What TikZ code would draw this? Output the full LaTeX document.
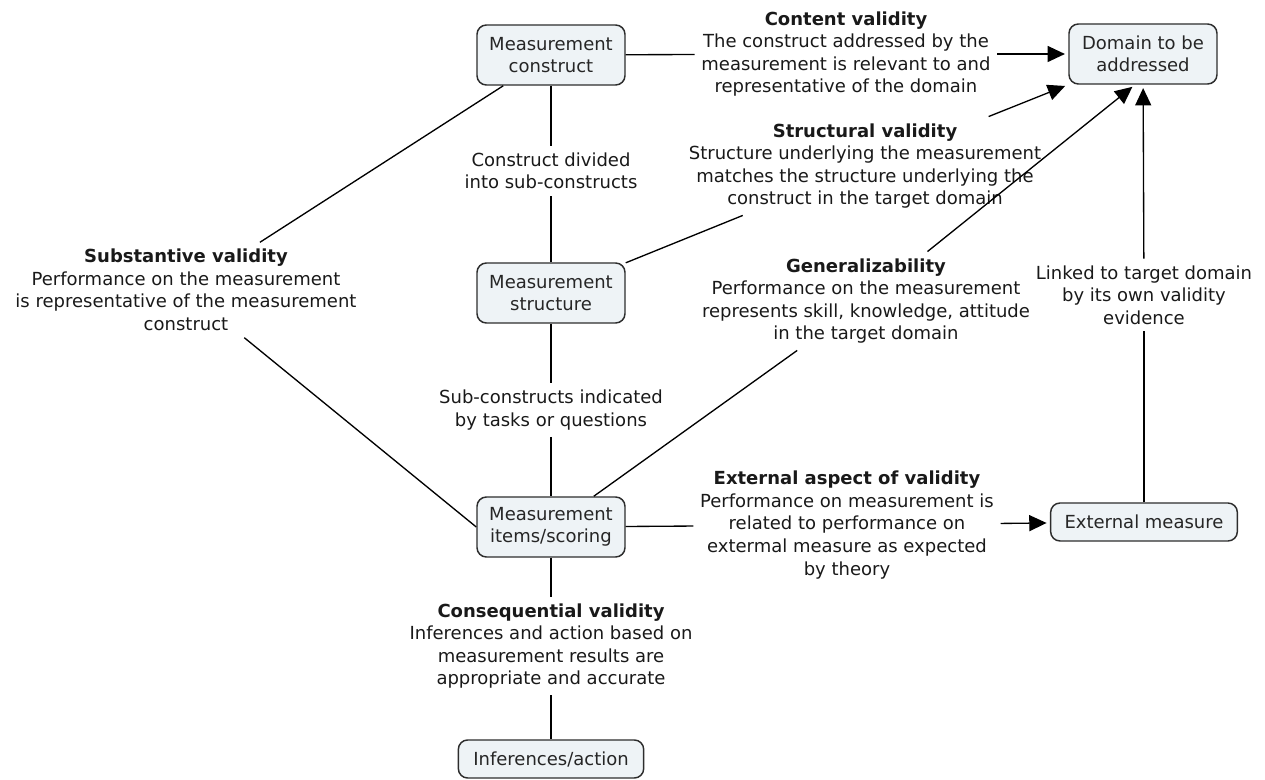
\documentclass[tikz,border=0pt]{standalone}
\usepackage{fontspec}
\setmainfont{DejaVu Sans}
\usetikzlibrary{arrows.meta}
\definecolor{boxfill}{RGB}{238,243,246}
\definecolor{boxline}{RGB}{45,45,45}
\begin{document}
\begin{tikzpicture}[
    x=0.75pt, y=-0.75pt,
    >={Triangle[length=13pt,width=12pt]},
    concept/.style={draw=boxline, fill=boxfill, rectangle, rounded corners=7pt, line width=1.1pt, align=center, minimum width=111pt, minimum height=45pt, font=\fontsize{13.5}{16.9}\selectfont, text=black!85},
    link/.style={align=center, inner sep=5pt, font=\fontsize{13.5}{16.9}\selectfont, text=black!90},
    line/.style={draw=black, line width=1pt},
    arrow/.style={->, line, shorten >=2.5pt}
]
  \useasboundingbox (0,0) rectangle (1265,780);

  \node[concept] (construct) at (551,55) {Measurement\\construct};
  \node[concept] (domain) at (1143,54) {Domain to be\\addressed};
  \node[concept] (structure) at (551,293) {Measurement\\structure};
  \node[concept] (items) at (551,527) {Measurement\\items/scoring};
  \node[concept, minimum width=140pt, minimum height=28.5pt] (extmeasure) at (1144,522) {External measure};
  \node[concept, minimum width=139pt, minimum height=28.5pt] (inference) at (551,759) {Inferences/action};

  % Links between the concepts
  \node[link] (content) at (846,54) {\textbf{Content validity}\\The construct addressed by the\\measurement is relevant to and\\representative of the domain};
  \node[link] (structural) at (865,166) {\textbf{Structural validity}\\Structure underlying the measurement\\matches the structure underlying the\\construct in the target domain};
  \node[link] (divided) at (551,171) {Construct divided\\into sub-constructs};
  \node[link] (substantive) at (186,290) {\textbf{Substantive validity}\\Performance on the measurement\\is representative of the measurement\\construct};
  \node[link] (general) at (866,301) {\textbf{Generalizability}\\Performance on the measurement\\represents skill, knowledge, attitude\\in the target domain};
  \node[link] (linked) at (1144,295) {Linked to target domain\\by its own validity\\evidence};
  \node[link] (subcons) at (551,410) {Sub-constructs indicated\\by tasks or questions};
  \node[link] (external) at (847,525) {\textbf{External aspect of validity}\\Performance on measurement is\\related to performance on\\extermal measure as expected\\by theory};
  \node[link] (conseq) at (551,646) {\textbf{Consequential validity}\\Inferences and action based on\\measurement results are\\appropriate and accurate};

  \draw[line] (construct) -- (content);
  \draw[arrow] (content) -- (domain);
  \draw[line] (structure) -- (structural);
  \draw[arrow] (structural) -- (domain.south west);
  \draw[line] (construct) -- (divided);
  \draw[line] (divided) -- (structure);
  \draw[line] (construct) -- (substantive);
  \draw[line] (substantive) -- (items.west);
  \draw[line] (items) -- (general);
  \draw[arrow] (general) -- ([xshift=-6pt]domain.south);
  \draw[line] (extmeasure) -- (linked);
  \draw[arrow] (linked) -- (domain);
  \draw[line] (structure) -- (subcons);
  \draw[line] (subcons) -- (items);
  \draw[line] (items) -- (external);
  \draw[arrow] (external) -- (extmeasure);
  \draw[line] (items) -- (conseq);
  \draw[line] (conseq) -- (inference);
\end{tikzpicture}
\end{document}
